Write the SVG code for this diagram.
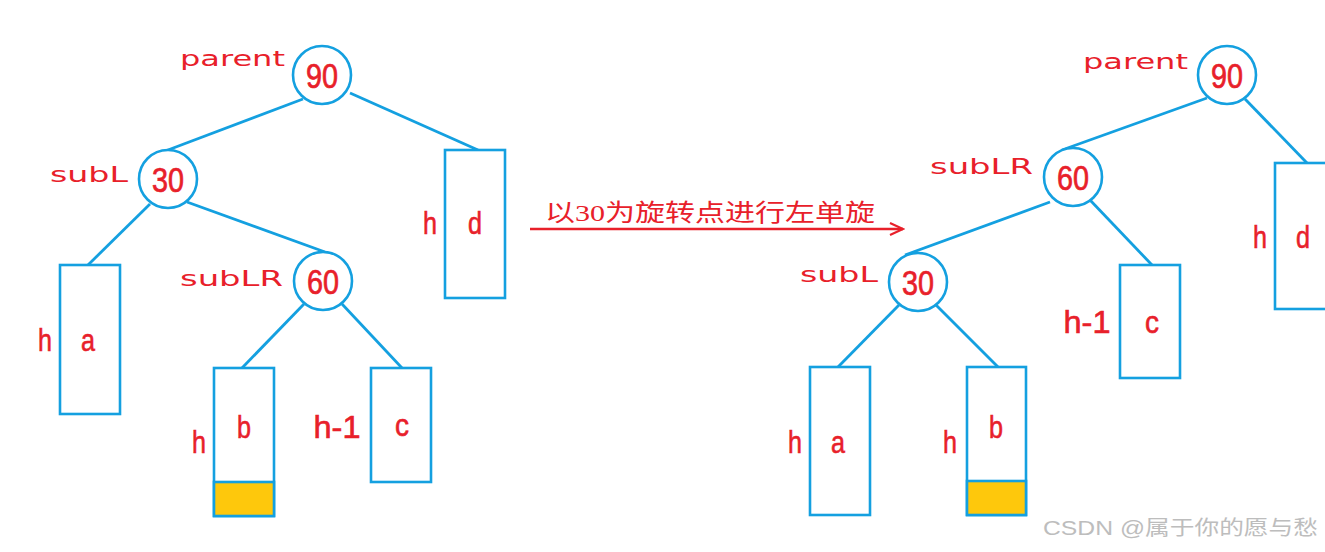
<svg xmlns="http://www.w3.org/2000/svg" width="1325" height="552" viewBox="0 0 1325 552">
<defs>
<style>
.edge{stroke:#14a0e0;stroke-width:2.8;fill:none}
.node circle{fill:#fff;stroke:#14a0e0;stroke-width:2.6}
.box rect{fill:#fff;stroke:#14a0e0;stroke-width:2.6}
.box rect.fill{fill:#fec80c}
.num{font-family:"Liberation Sans",Arial,sans-serif;font-size:35px;fill:#e8202a;stroke:#e8202a;stroke-width:0.7;text-anchor:middle}
.lbl{font-family:"Liberation Sans",Arial,sans-serif;font-size:31px;fill:#e8202a;stroke:#e8202a;stroke-width:0.6;text-anchor:middle}
.tag{font-family:"DejaVu Sans",sans-serif;font-size:22px;fill:#e8202a}
.cap{font-family:"Liberation Serif","Noto Sans CJK SC",serif;font-size:24px;fill:#e8202a}
.wm{font-family:"Liberation Sans","Noto Sans CJK SC",sans-serif;font-size:20px;fill:#bdbdbd}
</style>
<marker id="chev" markerWidth="16" markerHeight="14" refX="14" refY="7" orient="auto" markerUnits="userSpaceOnUse">
<path d="M1,1 L14,7 L1,13" fill="none" stroke="#e8202a" stroke-width="2.2"/>
</marker>
</defs>
<rect width="1325" height="552" fill="#fff"/>
<g id="connectors">
<line class="edge" x1="303" y1="99" x2="160" y2="153"/>
<line class="edge" x1="350" y1="93" x2="478" y2="150"/>
<line class="edge" x1="150" y1="204" x2="88" y2="265"/>
<line class="edge" x1="187" y1="202" x2="325" y2="252"/>
<line class="edge" x1="304" y1="304" x2="242" y2="368"/>
<line class="edge" x1="342" y1="304" x2="402" y2="368"/>
<line class="edge" x1="1207" y1="98" x2="1062" y2="150"/>
<line class="edge" x1="1245" y1="99" x2="1307" y2="163"/>
<line class="edge" x1="1050" y1="202" x2="905" y2="255"/>
<line class="edge" x1="1090" y1="200" x2="1152" y2="265"/>
<line class="edge" x1="899" y1="305" x2="838" y2="367"/>
<line class="edge" x1="936" y1="305" x2="998" y2="367"/>
<line x1="530" y1="229" x2="903" y2="229" stroke="#e8202a" stroke-width="2.4" marker-end="url(#chev)"/>
</g>
<g id="caption"><text class="cap" x="545" y="221" textLength="330" lengthAdjust="spacingAndGlyphs">以30为旋转点进行左单旋</text></g>
<g id="L90" class="node"><circle cx="322" cy="75" r="29"/><text class="num" x="322" y="88" textLength="32" lengthAdjust="spacingAndGlyphs">90</text><text class="tag" x="180" y="66" textLength="105" lengthAdjust="spacingAndGlyphs">parent</text></g>
<g id="L30" class="node"><circle cx="168" cy="179" r="29"/><text class="num" x="168" y="192" textLength="32" lengthAdjust="spacingAndGlyphs">30</text><text class="tag" x="50" y="182" textLength="78" lengthAdjust="spacingAndGlyphs">subL</text></g>
<g id="L60" class="node"><circle cx="323" cy="281" r="29"/><text class="num" x="323" y="294" textLength="32" lengthAdjust="spacingAndGlyphs">60</text><text class="tag" x="180" y="286" textLength="103" lengthAdjust="spacingAndGlyphs">subLR</text></g>
<g id="Ld" class="box"><rect x="445" y="150" width="60" height="148"/><text class="lbl" x="430" y="234" textLength="14" lengthAdjust="spacingAndGlyphs">h</text><text class="lbl" x="475" y="234" textLength="14" lengthAdjust="spacingAndGlyphs">d</text></g>
<g id="La" class="box"><rect x="60" y="265" width="60" height="149"/><text class="lbl" x="45" y="351" textLength="14" lengthAdjust="spacingAndGlyphs">h</text><text class="lbl" x="88" y="351" textLength="14" lengthAdjust="spacingAndGlyphs">a</text></g>
<g id="Lb" class="box"><rect x="214" y="368" width="60" height="148"/><rect class="fill" x="214" y="482" width="60" height="34"/><text class="lbl" x="199" y="453" textLength="14" lengthAdjust="spacingAndGlyphs">h</text><text class="lbl" x="244" y="438" textLength="14" lengthAdjust="spacingAndGlyphs">b</text></g>
<g id="Lc" class="box"><rect x="371" y="368" width="60" height="114"/><text class="lbl" x="337" y="438" textLength="47" lengthAdjust="spacingAndGlyphs">h-1</text><text class="lbl" x="402" y="436" textLength="14" lengthAdjust="spacingAndGlyphs">c</text></g>
<g id="R90" class="node"><circle cx="1227" cy="75" r="29"/><text class="num" x="1227" y="88" textLength="32" lengthAdjust="spacingAndGlyphs">90</text><text class="tag" x="1083" y="69" textLength="105" lengthAdjust="spacingAndGlyphs">parent</text></g>
<g id="R60" class="node"><circle cx="1073" cy="177" r="29"/><text class="num" x="1073" y="190" textLength="32" lengthAdjust="spacingAndGlyphs">60</text><text class="tag" x="930" y="174" textLength="103" lengthAdjust="spacingAndGlyphs">subLR</text></g>
<g id="R30" class="node"><circle cx="918" cy="282" r="29"/><text class="num" x="918" y="295" textLength="32" lengthAdjust="spacingAndGlyphs">30</text><text class="tag" x="800" y="282" textLength="78" lengthAdjust="spacingAndGlyphs">subL</text></g>
<g id="Rd" class="box"><rect x="1275" y="163" width="60" height="146"/><text class="lbl" x="1260" y="248" textLength="14" lengthAdjust="spacingAndGlyphs">h</text><text class="lbl" x="1303" y="248" textLength="14" lengthAdjust="spacingAndGlyphs">d</text></g>
<g id="Rc" class="box"><rect x="1120" y="265" width="60" height="113"/><text class="lbl" x="1087" y="333" textLength="47" lengthAdjust="spacingAndGlyphs">h-1</text><text class="lbl" x="1152" y="333" textLength="14" lengthAdjust="spacingAndGlyphs">c</text></g>
<g id="Ra" class="box"><rect x="810" y="367" width="60" height="148"/><text class="lbl" x="795" y="453" textLength="14" lengthAdjust="spacingAndGlyphs">h</text><text class="lbl" x="838" y="453" textLength="14" lengthAdjust="spacingAndGlyphs">a</text></g>
<g id="Rb" class="box"><rect x="967" y="367" width="59" height="148"/><rect class="fill" x="967" y="481" width="59" height="34"/><text class="lbl" x="950" y="453" textLength="14" lengthAdjust="spacingAndGlyphs">h</text><text class="lbl" x="996" y="438" textLength="14" lengthAdjust="spacingAndGlyphs">b</text></g>
<text class="wm" x="1043" y="535" textLength="275" lengthAdjust="spacingAndGlyphs">CSDN @属于你的愿与愁</text>
</svg>
